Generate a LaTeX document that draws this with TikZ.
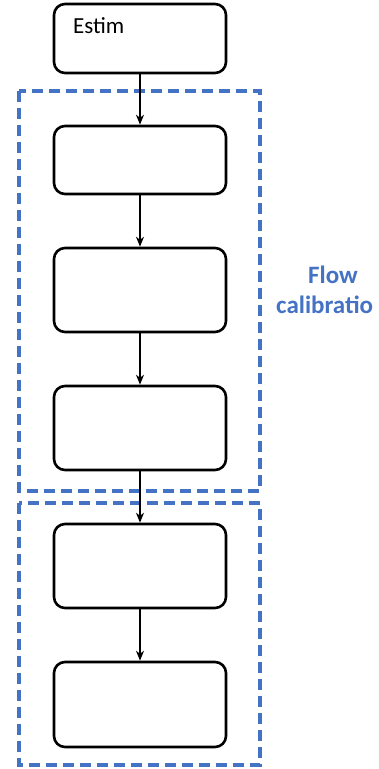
\documentclass[tikz,border=0pt]{standalone}
\usepackage{fontspec}
\setmainfont{Carlito}
\usetikzlibrary{arrows.meta}
\definecolor{dashblue}{HTML}{4472C4}
\tikzset{
  stepbox/.style={draw=black, line width=2.6pt, rounded corners=11pt, minimum width=172pt, inner sep=0pt, fill=white},
  flowarrow/.style={draw=black, line width=2pt, -{Stealth[length=10pt,width=8pt]}},
  groupbox/.style={draw=dashblue, line width=3.4pt, dash pattern=on 11pt off 6pt},
  grouplabel/.style={text=dashblue, font=\fontsize{25}{28}\selectfont\bfseries, inner sep=0pt}
}
\begin{document}
\begin{tikzpicture}[x=1pt,y=-1pt]
\useasboundingbox (0,0) rectangle (379,769);
\draw[groupbox] (19,91) rectangle (260,491);
\draw[groupbox] (19,503) rectangle (260,765);
\node[stepbox, minimum height=69pt] (b1) at (140,38.5) {};
\node[stepbox, minimum height=68pt] (b2) at (140,160) {};
\node[stepbox, minimum height=84pt] (b3) at (140,290) {};
\node[stepbox, minimum height=84pt] (b4) at (140,428) {};
\node[stepbox, minimum height=84pt] (b5) at (140,566) {};
\node[stepbox, minimum height=85pt] (b6) at (140,704.5) {};
\node[anchor=base west, inner sep=0pt, font=\fontsize{23}{26}\selectfont] (t1) at (73,33) {Estim};
\node[grouplabel, anchor=base] (l1) at (333,283) {Flow};
\node[grouplabel, anchor=base west] (l2) at (276,313) {calibratio};
\draw[flowarrow] (b1) -- (b2);
\draw[flowarrow] (b2) -- (b3);
\draw[flowarrow] (b3) -- (b4);
\draw[flowarrow] (b4) -- (b5);
\draw[flowarrow] (b5) -- (b6);
\end{tikzpicture}
\end{document}
